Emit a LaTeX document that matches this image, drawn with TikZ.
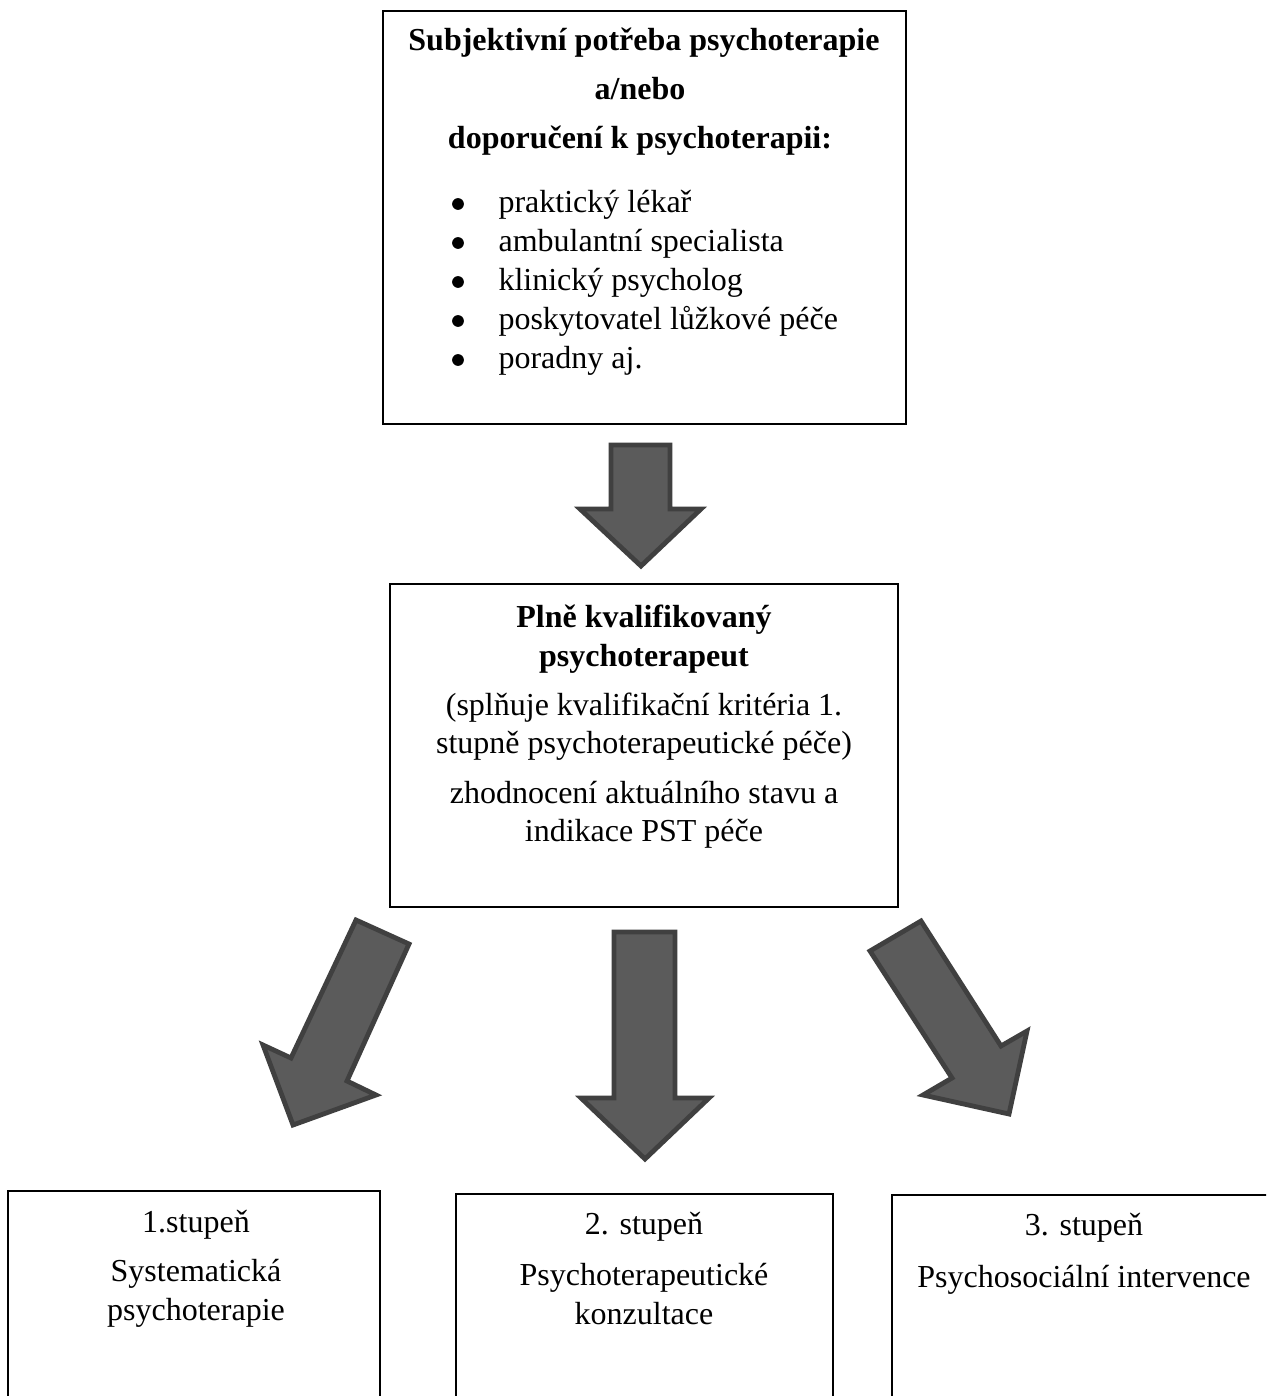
\documentclass[tikz,border=0pt]{standalone}
\usepackage{fontspec}
\setmainfont{Liberation Serif}
\usetikzlibrary{fit}
\definecolor{arrowfill}{HTML}{5B5B5B}
\definecolor{arrowline}{HTML}{404040}
\begin{document}
\begin{tikzpicture}[x=0.375pt,y=-0.375pt,
  box/.style={draw=black,line width=0.8pt,inner sep=0pt},
  blk/.style={fill=arrowfill,draw=arrowline,line width=1.8pt,line join=miter},
  txt/.style={anchor=base,inner sep=0pt,font=\fontsize{12}{14}\selectfont},
  bt/.style={anchor=base,inner sep=0pt,font=\fontsize{12}{14}\selectfont\bfseries},
  item/.style={anchor=base west,inner sep=0pt,font=\fontsize{12}{14}\selectfont},
  bul/.style={circle,fill=black,draw=none,inner sep=0pt,minimum size=4.4pt}]
\useasboundingbox (0,0) rectangle (1266,1396);
\clip (0,0) rectangle (1266,1396);
\fill[white] (0,0) rectangle (1266,1396);

% boxes
\node[box, fit={(383,11) (906,424)}] (b1) {};
\node[box, fit={(390,584) (898,907)}] (b2) {};
\node[box, fit={(8,1191) (380,1430)}] (s1) {};
\node[box, fit={(456,1194) (833,1430)}] (s2) {};
\node[box, fit={(892,1195) (1290,1430)}] (s3) {};

% box 1 text
\node[bt] (t11) at (644,51) {Subjektivní potřeba psychoterapie};
\node[bt] (t12) at (640,100) {a/nebo};
\node[bt] (t13) at (640,149) {doporučení k psychoterapii:};
\foreach \y/\t [count=\i] in {213/praktický lékař,252/ambulantní specialista,291/klinický psycholog,330/poskytovatel lůžkové péče,369/poradny aj.}{
  \node[bul] (bu\i) at (458,\y-9) {};
  \node[item] (it\i) at (498,\y) {\t};
}

% box 2 text
\node[bt] (t21) at (644,627) {Plně kvalifikovaný};
\node[bt] (t22) at (644,666) {psychoterapeut};
\node[txt] (t23) at (644,715) {(splňuje kvalifikační kritéria 1.};
\node[txt] (t24) at (644,753) {stupně psychoterapeutické péče)};
\node[txt] (t25) at (644,803) {zhodnocení aktuálního stavu a};
\node[txt] (t26) at (644,841) {indikace PST péče};

% bottom texts
\node[txt] (a1) at (196,1232) {1.stupeň};
\node[txt] (a2) at (196,1281) {Systematická};
\node[txt] (a3) at (196,1320) {psychoterapie};
\node[txt] (c1) at (644,1234) {2. stupeň};
\node[txt] (c2) at (644,1285) {Psychoterapeutické};
\node[txt] (c3) at (644,1324) {konzultace};
\node[txt] (d1) at (1084,1235) {3. stupeň};
\node[txt] (d2) at (1084,1287) {Psychosociální intervence};

% block arrows
\draw[blk] (611,445) -- (670,445) -- (670,509) -- (701,509) -- (641,566) -- (580,509) -- (611,509) -- cycle;
\draw[blk] (614,932) -- (675,932) -- (675,1098) -- (709,1098) -- (645,1159) -- (581,1098) -- (614,1098) -- cycle;
\draw[blk] (356,920) -- (409,944) -- (347,1081) -- (376,1095) -- (293,1125) -- (263,1045) -- (291,1058) -- cycle;
\draw[blk] (870,951) -- (921,921) -- (1001,1046) -- (1027,1031) -- (1009,1114) -- (923,1095) -- (952,1078) -- cycle;
\end{tikzpicture}
\end{document}
